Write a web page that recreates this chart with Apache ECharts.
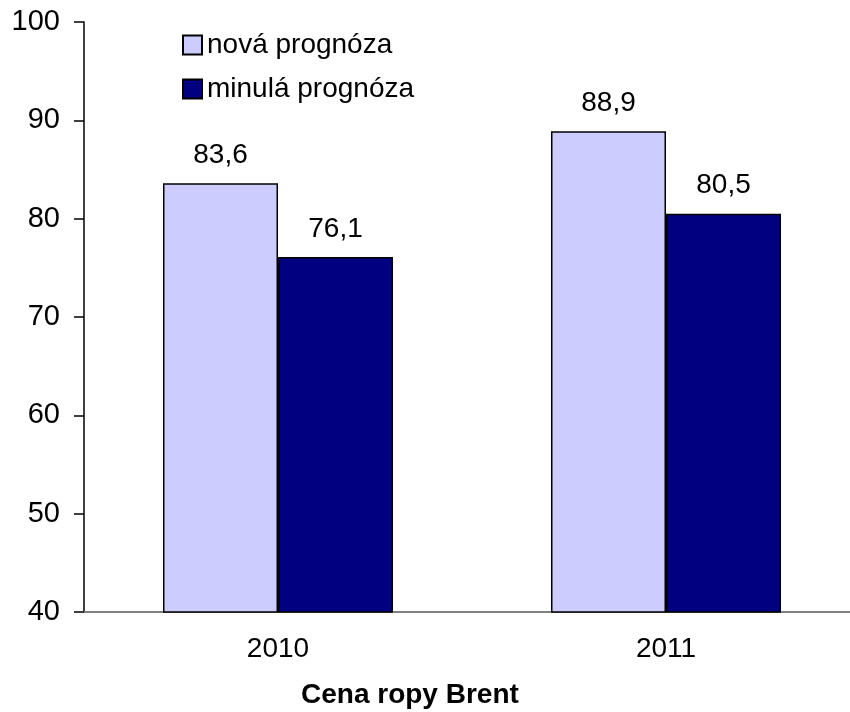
<!DOCTYPE html>
<html>
<head>
<meta charset="utf-8">
<script src="https://cdn.jsdelivr.net/npm/echarts@6/dist/echarts.min.js"></script>
<style>
  html, body { margin: 0; padding: 0; background: #fff; }
  #chart { width: 850px; height: 712px; }
</style>
</head>
<body>
<div id="chart"></div>
<script>
const categories = ['2010', '2011'];
const novaPrognoza = [83.6, 88.9];
const minulaPrognoza = [76.1, 80.5];
const seriesNames = ['nová prognóza', 'minulá prognóza'];
const axisTitle = 'Cena ropy Brent';

const font = 'Arial, "Liberation Sans", sans-serif';
const fmt = p => p.value[1].toFixed(1).replace('.', ',');

// categories placed at 0, 1 on a value axis so the plot can run past the right edge
const toPoints = arr => arr.map((v, i) => [i, v]);
const catIdx = categories.map((c, i) => i);

const chart = echarts.init(document.getElementById('chart'));

chart.setOption({
  backgroundColor: '#ffffff',
  animation: false,
  title: {
    text: axisTitle,
    left: 296,
    top: 676,
    textStyle: { fontFamily: font, fontSize: 28, fontWeight: 'bold', color: '#000' }
  },
  legend: {
    orient: 'vertical',
    left: 177,
    top: 26,
    itemWidth: 19,
    itemHeight: 19,
    itemGap: 16,
    icon: 'rect',
    textStyle: { fontFamily: font, fontSize: 28, color: '#000' },
    data: seriesNames
  },
  grid: {
    left: 84,
    top: 22,
    right: 0,
    bottom: 100,
    containLabel: false
  },
  xAxis: {
    type: 'value',
    min: -0.5,
    max: -0.5 + 766 / 388,
    splitLine: { show: false },
    axisLine: { onZero: false, lineStyle: { color: '#808080', width: 2 } },
    axisTick: { show: false },
    axisLabel: {
      fontFamily: font, fontSize: 28, color: '#000', margin: 23,
      customValues: catIdx,
      formatter: v => categories[Math.round(v)]
    }
  },
  yAxis: {
    type: 'value',
    min: 40,
    max: 100,
    interval: 10,
    splitLine: { show: false },
    axisLine: { show: true, onZero: false, lineStyle: { color: '#000', width: 1.5 } },
    axisTick: { show: true, length: 10, lineStyle: { color: '#000', width: 1.5 } },
    axisLabel: { fontFamily: font, fontSize: 29, color: '#000', margin: 24 }
  },
  series: [
    {
      name: seriesNames[0],
      type: 'bar',
      data: toPoints(novaPrognoza),
      barWidth: 115,
      barGap: '0%',
      itemStyle: { color: '#CCCCFF', borderColor: '#000', borderWidth: 1.5 },
      label: {
        show: true, position: 'top', distance: 14,
        fontFamily: font, fontSize: 28, color: '#000', formatter: fmt
      }
    },
    {
      name: seriesNames[1],
      type: 'bar',
      data: toPoints(minulaPrognoza),
      barWidth: 115,
      itemStyle: { color: '#000080', borderColor: '#000', borderWidth: 1.5 },
      label: {
        show: true, position: 'top', distance: 14,
        fontFamily: font, fontSize: 28, color: '#000', formatter: fmt
      }
    }
  ]
});
</script>
</body>
</html>
